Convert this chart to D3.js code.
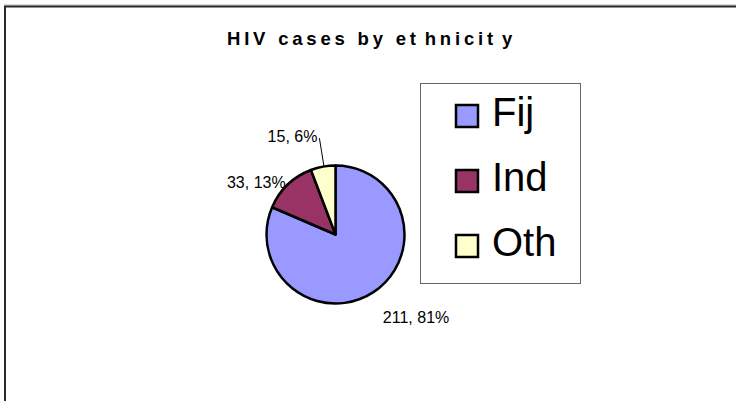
<!DOCTYPE html>
<html>
<head>
<meta charset="utf-8">
<script src="https://cdn.jsdelivr.net/npm/d3@7/dist/d3.min.js"></script>
<style>
  html, body { margin: 0; padding: 0; background: #fff; }
  svg { display: block; }
  text { font-family: "Liberation Sans", Arial, sans-serif; }
</style>
</head>
<body>
<svg id="chart" width="736" height="401"></svg>
<script>
// ---- data ----
const categories = ["Fij", "Ind", "Oth"];
const values = [211, 33, 15];
const colors = ["#9999FF", "#993366", "#FFFFCC"];
const titleParts = ["HIV cases by et", "hnicit", "y"];

// ---- layout ----
const W = 736, H = 401;
const cx = 335.5, cy = 234.5, R = 69;
const labelRadius = [97, 72, 100];
const labelNudge = [[-6, 2], [0, 0], [0, 0]];

const svg = d3.select("#chart");

// outer frame
svg.append("line").attr("x1", 4).attr("x2", W + 5).attr("y1", 5).attr("y2", 5)
  .attr("stroke", "#b0b0b0").attr("stroke-width", 1);
svg.append("rect")
  .attr("x", 5).attr("y", 6.5).attr("width", W + 10).attr("height", H + 10)
  .attr("fill", "none").attr("stroke", "#2a2a2a").attr("stroke-width", 2);

// title
const t = svg.append("text")
  .attr("x", 227).attr("y", 44.5)
  .attr("font-size", 18.5).attr("font-weight", "bold")
  .attr("letter-spacing", 3.8)
  .attr("fill", "#000");
titleParts.forEach((p, i) => {
  t.append("tspan").attr("dx", i === 0 ? 0 : 5).text(p);
});

// pie
const total = d3.sum(values);
const pie = d3.pie().sort(null).value(d => d.value);
const arcs = pie(categories.map((c, i) => ({ cat: c, value: values[i], i })));
const arc = d3.arc().innerRadius(0).outerRadius(R);

const g = svg.append("g").attr("transform", `translate(${cx},${cy})`);
g.selectAll("path.slice").data(arcs).join("path")
  .attr("class", "slice")
  .attr("d", arc)
  .attr("fill", (d, i) => colors[i])
  .attr("stroke", "#000").attr("stroke-width", 2.5).attr("stroke-linejoin", "round");

// labels
arcs.forEach((d, i) => {
  const a = (d.startAngle + d.endAngle) / 2;
  const r = labelRadius[i];
  const x = Math.sin(a) * r + labelNudge[i][0];
  const y = -Math.cos(a) * r + labelNudge[i][1];
  const anchor = Math.sin(a) >= 0 ? "start" : "end";
  const pct = Math.round(d.data.value / total * 100);
  const ex = Math.sin(a) * R, ey = -Math.cos(a) * R;
  if (Math.sin(a) < 0) {
    g.append("line")
      .attr("x1", ex + 1).attr("y1", ey)
      .attr("x2", x + 2).attr("y2", y + 2)
      .attr("stroke", "#000").attr("stroke-width", 1);
  }
  g.append("text")
    .attr("x", x).attr("y", y).attr("dy", "0.35em")
    .attr("text-anchor", anchor)
    .attr("font-size", 16).attr("fill", "#000")
    .text(`${d.data.value}, ${pct}%`);
});

// legend
const lg = svg.append("g");
lg.append("rect").attr("x", 420.5).attr("y", 83.5).attr("width", 160).attr("height", 200)
  .attr("fill", "#fff").attr("stroke", "#666").attr("stroke-width", 1);
const itemY = d3.scalePoint().domain(categories).range([126, 256]);
categories.forEach((c, i) => {
  const by = itemY(c);
  lg.append("rect").attr("x", 456).attr("y", by - 21).attr("width", 22).attr("height", 22)
    .attr("fill", colors[i]).attr("stroke", "#000").attr("stroke-width", 2.5);
  lg.append("text").attr("x", 492).attr("y", by)
    .attr("font-size", 40).attr("fill", "#000").text(c);
});
</script>
</body>
</html>
